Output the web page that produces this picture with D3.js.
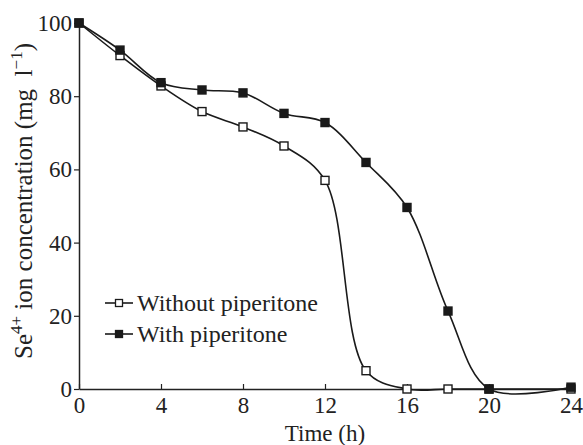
<!DOCTYPE html>
<html lang="en">
<head>
    <meta charset="utf-8">
    <title>Se4+ removal with and without piperitone</title>
    <script type="text/javascript" src="https://d3js.org/d3.v7.min.js"></script>
</head>
<body style="margin:0">
<script type="text/javascript">

    // data
    var hoursWithout = [0, 2, 4, 6, 8, 10, 12, 14, 16, 18, 20, 24];
    var withoutPiperitone = [100, 91.1, 82.8, 75.8, 71.6, 66.4, 57.0, 5.0, 0, 0, 0, 0];
    var hoursWith = [0, 2, 4, 6, 8, 10, 12, 14, 16, 18, 20, 24];
    var withPiperitone = [100, 92.6, 83.7, 81.7, 80.9, 75.3, 72.8, 61.9, 49.6, 21.3, 0, 0.5];
    var xTicks = [0, 4, 8, 12, 16, 20, 24];
    var yTicks = [0, 20, 40, 60, 80, 100];
    var legendLabels = ["Without piperitone", "With piperitone"];

    var width = 583, height = 445;
    var margin = {left: 79, right: 12, top: 23, bottom: 56};
    var serif = "Liberation Serif";

    var svg = d3.select("body").append("svg")
        .attr("width", width)
        .attr("height", height)
        .attr("font-family", serif);

    var x = d3.scaleLinear().domain([0, 24]).range([margin.left, width - margin.right]);
    var y = d3.scaleLinear().domain([0, 100]).range([height - margin.bottom, margin.top]);

    // axes
    var xAxis = svg.append("g")
        .attr("transform", "translate(0," + y(0) + ")")
        .call(d3.axisBottom(x).tickValues(xTicks).tickSizeInner(-5).tickSizeOuter(0).tickPadding(7));
    var yAxis = svg.append("g")
        .attr("transform", "translate(" + x(0) + ",0)")
        .call(d3.axisLeft(y).tickValues(yTicks).tickSizeInner(5).tickSizeOuter(0).tickPadding(2));

    [xAxis, yAxis].forEach(function(a) {
        a.attr("font-family", serif).attr("font-size", 23);
        a.select(".domain").attr("stroke", "#222").attr("stroke-width", 1.5);
        a.selectAll(".tick line").attr("stroke", "#222").attr("stroke-width", 1.2);
        a.selectAll(".tick text").attr("fill", "#222").attr("font-family", serif);
    });
    xAxis.selectAll(".tick text").attr("dy", "0.72em");
    yAxis.selectAll(".tick text").attr("dy", "0.33em");

    // axis titles
    svg.append("text")
        .attr("x", x(12))
        .attr("y", height - 4)
        .attr("text-anchor", "middle")
        .attr("fill", "#222")
        .attr("font-family", serif)
        .attr("font-size", 23)
        .text("Time (h)");

    var yl = svg.append("text")
        .attr("transform", "translate(32," + ((y(0) + y(100)) / 2 - 5) + ") rotate(-90)")
        .attr("text-anchor", "middle")
        .attr("fill", "#222")
        .attr("font-family", serif)
        .attr("font-size", 25);
    yl.append("tspan").text("Se");
    yl.append("tspan").attr("dy", -10).attr("font-size", 17).text("4+");
    yl.append("tspan").attr("dy", 10).text(" ion concentration (mg\u2002l");
    yl.append("tspan").attr("dy", -10).attr("font-size", 17).text("\u22121");
    yl.append("tspan").attr("dy", 10).text(")");

    // series
    var series = [
        {name: legendLabels[0], xs: hoursWithout, ys: withoutPiperitone, fill: "#fff"},
        {name: legendLabels[1], xs: hoursWith, ys: withPiperitone, fill: "#1a1a1a"}
    ];

    var line = d3.line()
        .x(function(d) { return x(d[0]); })
        .y(function(d) { return y(d[1]); })
        .curve(d3.curveCatmullRom.alpha(0.5));

    series.forEach(function(s) {
        var pts = s.xs.map(function(h, i) { return [h, s.ys[i]]; });
        svg.append("path")
            .datum(pts)
            .attr("d", line)
            .attr("fill", "none")
            .attr("stroke", "#1a1a1a")
            .attr("stroke-width", 1.6);
    });

    series.forEach(function(s) {
        var pts = s.xs.map(function(h, i) { return [h, s.ys[i]]; });
        svg.selectAll(null)
            .data(pts)
            .enter().append("rect")
            .attr("x", function(d) { return x(d[0]) - 4; })
            .attr("y", function(d) { return y(d[1]) - 4; })
            .attr("width", 8)
            .attr("height", 8)
            .attr("fill", s.fill)
            .attr("stroke", "#1a1a1a")
            .attr("stroke-width", 1.4);
    });

    // legend
    var legend = svg.append("g").attr("transform", "translate(105,303)");
    series.forEach(function(s, i) {
        var g = legend.append("g").attr("transform", "translate(0," + (i * 31) + ")");
        g.append("line").attr("x1", 0).attr("x2", 28).attr("y1", 0).attr("y2", 0)
            .attr("stroke", "#1a1a1a").attr("stroke-width", 1.6);
        g.append("rect").attr("x", 10.5).attr("y", -3.5).attr("width", 7).attr("height", 7)
            .attr("fill", s.fill).attr("stroke", "#1a1a1a").attr("stroke-width", 1.3);
        g.append("text").attr("x", 32).attr("y", 8)
            .attr("fill", "#222")
            .attr("font-family", serif)
            .attr("font-size", 24)
            .text(s.name);
    });

</script>
</body>
</html>
